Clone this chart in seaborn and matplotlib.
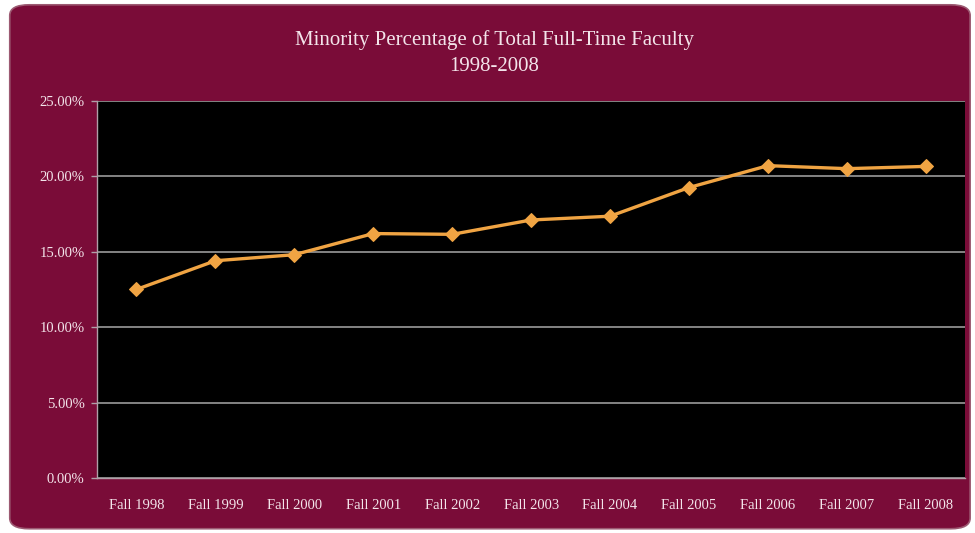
import matplotlib
matplotlib.use("Agg")
import matplotlib.pyplot as plt
import pandas as pd
import seaborn as sns
from matplotlib.patches import FancyBboxPatch
from matplotlib.ticker import FuncFormatter, MultipleLocator

# data
terms = ["Fall 1998", "Fall 1999", "Fall 2000", "Fall 2001", "Fall 2002", "Fall 2003",
         "Fall 2004", "Fall 2005", "Fall 2006", "Fall 2007", "Fall 2008"]
minority_pct = [12.5, 14.4, 14.8, 16.2, 16.15, 17.1, 17.35, 19.25, 20.7, 20.5, 20.65]

title = "Minority Percentage of Total Full-Time Faculty\n1998-2008"

maroon = "#7a0c38"
text_col = "#f3e4ea"
line_col = "#f0a443"

df = pd.DataFrame({"term": terms, "pct": minority_pct})

sns.set_style("dark")
plt.rcParams["font.family"] = ["Liberation Serif", "DejaVu Serif"]

fig = plt.figure(figsize=(9.75, 5.33), dpi=100)
fig.patch.set_facecolor("white")

# maroon rounded panel behind everything
panel = FancyBboxPatch((0.010, 0.008), 0.985, 0.983,
                       boxstyle="round,pad=0,rounding_size=0.02",
                       transform=fig.transFigure, facecolor=maroon,
                       edgecolor="#9c5a72", linewidth=1.2, zorder=-5)
fig.patches.append(panel)

ax = fig.add_axes([0.0995, 0.103, 0.8905, 0.708])
ax.set_zorder(2)
ax.set_facecolor("black")

sns.lineplot(data=df, x="term", y="pct", ax=ax, color=line_col, linewidth=2.4,
             marker="D", markersize=7, markeredgecolor=line_col, zorder=3)

ax.set_xlim(-0.5, len(terms) - 0.5)
ax.set_ylim(0, 25)
ax.yaxis.set_major_locator(MultipleLocator(5))
ax.yaxis.set_major_formatter(FuncFormatter(lambda v, p: f"{v:.2f}%"))

ax.grid(axis="y", color="#9a9a9a", linewidth=1.2)
ax.grid(axis="x", visible=False)
ax.set_axisbelow(True)

for side in ["top", "right"]:
    ax.spines[side].set_visible(False)
for side in ["left", "bottom"]:
    ax.spines[side].set_visible(True)
    ax.spines[side].set_color("#b0a0a8")
    ax.spines[side].set_linewidth(1.0)

ax.tick_params(axis="y", colors="#b0a0a8", labelcolor=text_col, labelsize=10.5,
               length=4, width=1, pad=5, direction="out", left=True)
ax.tick_params(axis="x", colors="#b0a0a8", labelcolor=text_col, labelsize=10.5,
               length=0, pad=15, bottom=True)
ax.set_xlabel("")
ax.set_ylabel("")

fig.text(0.507, 0.90, title, ha="center", va="center", color=text_col,
         fontsize=15, linespacing=1.5)

fig.savefig("out.png", dpi=100, facecolor=fig.get_facecolor())
